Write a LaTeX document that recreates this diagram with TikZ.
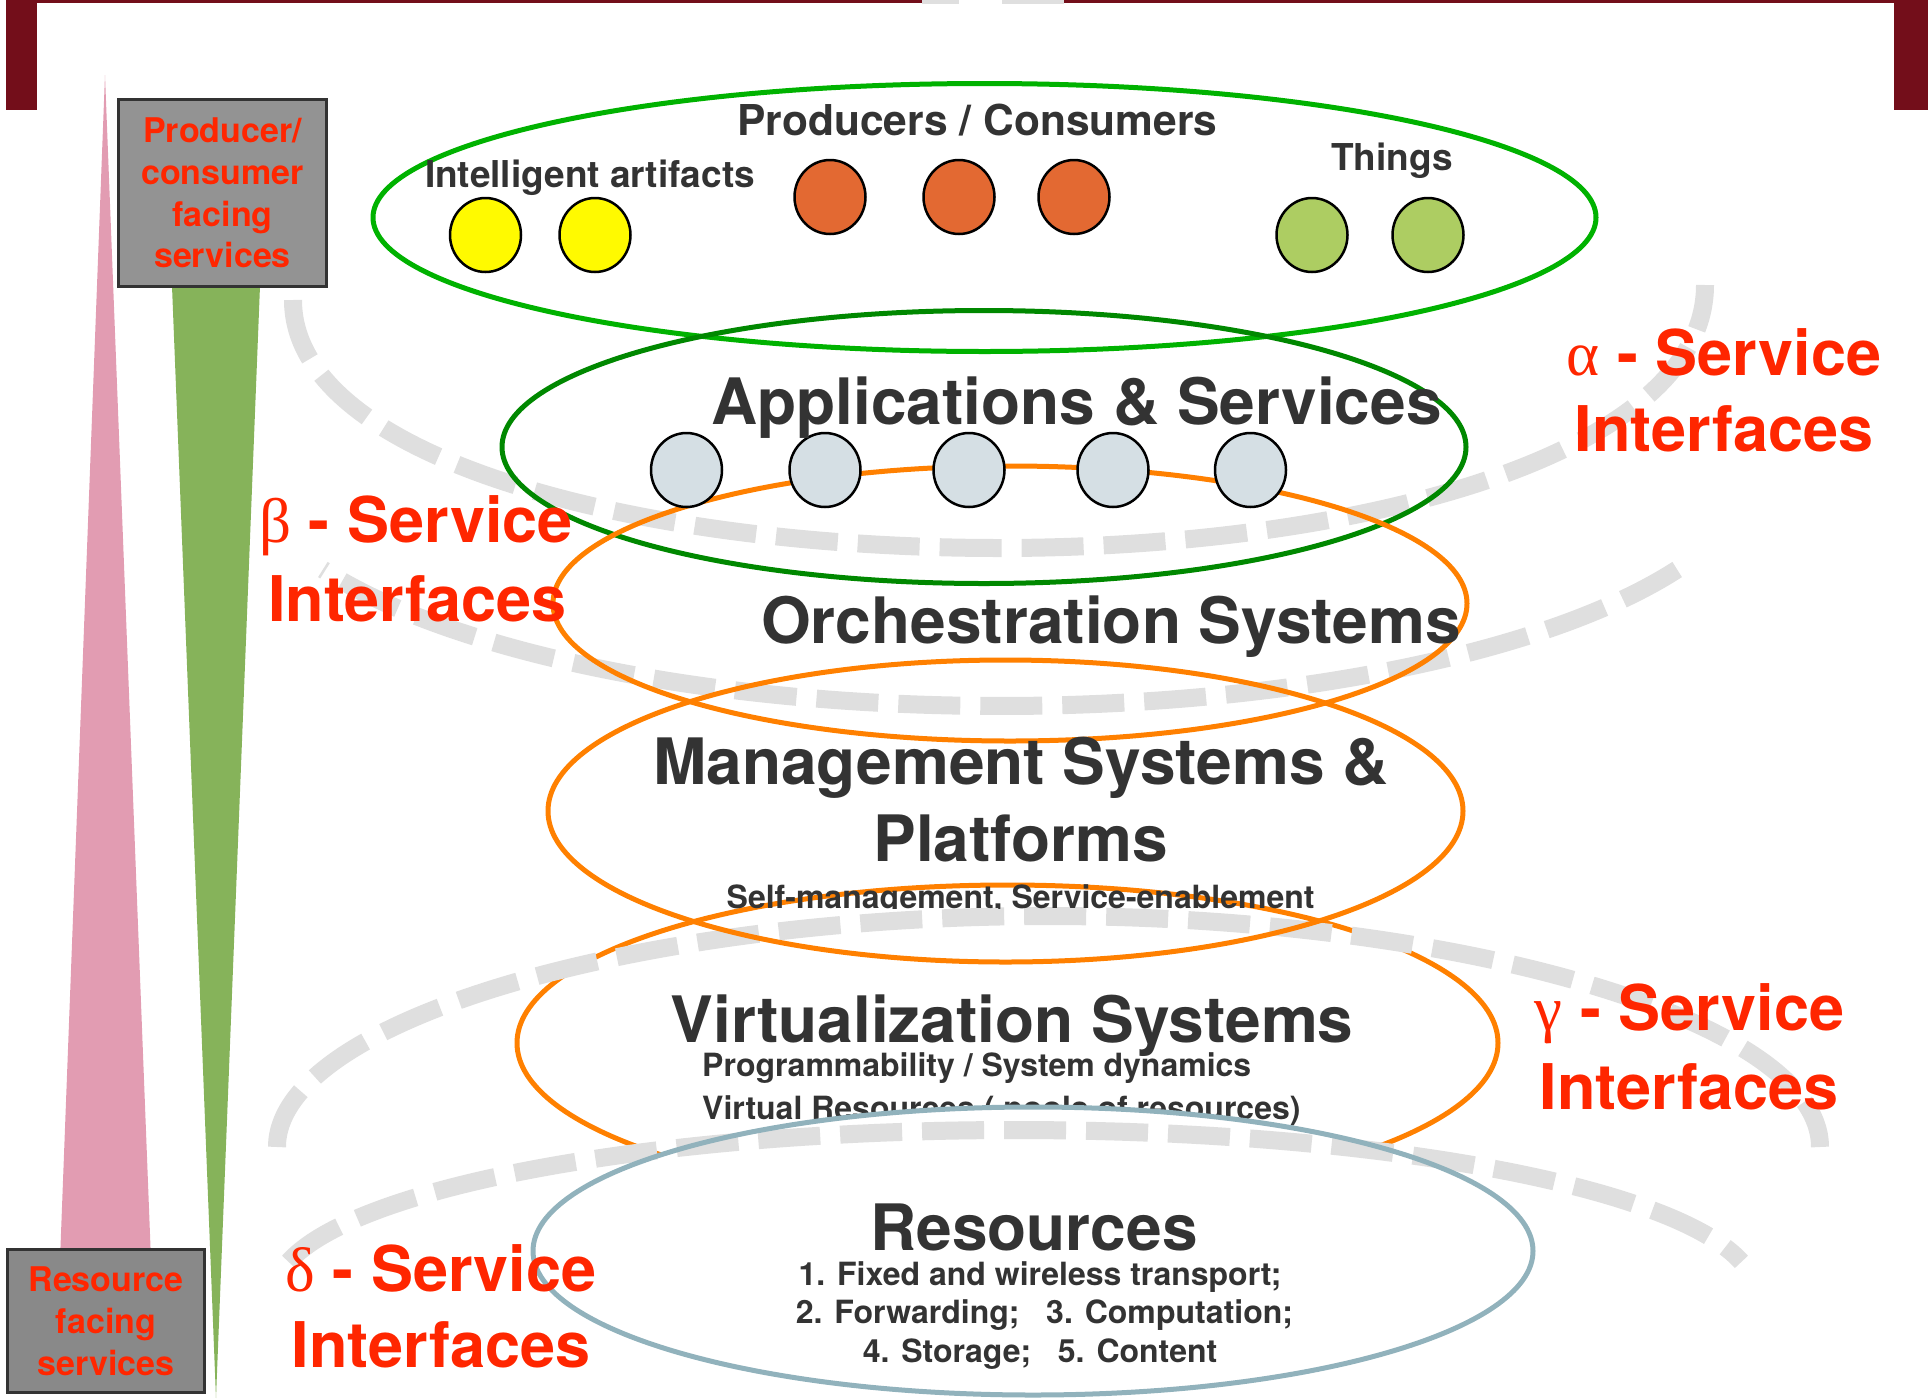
\documentclass[tikz,border=0pt]{standalone}
\usepackage{fontspec}
\setmainfont{TeX Gyre Heros}
\newfontfamily\grk{Liberation Serif}
\usetikzlibrary{shapes.geometric}
\definecolor{barred}{RGB}{115,14,26}
\definecolor{pinkc}{RGB}{226,156,178}
\definecolor{greentri}{RGB}{134,179,90}
\definecolor{boxfillA}{RGB}{147,147,147}
\definecolor{boxfillB}{RGB}{137,137,137}
\definecolor{boxedge}{RGB}{51,51,51}
\definecolor{lblred}{RGB}{255,38,0}
\definecolor{textgrey}{RGB}{51,51,51}
\definecolor{greenA}{RGB}{0,178,0}
\definecolor{greenB}{RGB}{0,136,0}
\definecolor{orangec}{RGB}{255,128,0}
\definecolor{bluegrey}{RGB}{145,178,188}
\definecolor{dashgrey}{RGB}{223,223,223}
\definecolor{yellowc}{RGB}{255,250,0}
\definecolor{orangedot}{RGB}{227,105,50}
\definecolor{greendot}{RGB}{173,205,98}
\definecolor{greydot}{RGB}{213,223,228}
\begin{document}
\begin{tikzpicture}[x=1pt,y=-1pt,
  txt/.style={anchor=base, inner sep=0pt, text=textgrey, font=\bfseries},
  big/.style={txt, font=\bfseries\fontsize{64}{77}\selectfont},
  small/.style={txt, font=\bfseries\fontsize{32}{38}\selectfont},
  lbl/.style={anchor=base, inner sep=0pt, text=lblred, font=\bfseries\fontsize{63}{77}\selectfont},
  ring/.style={ellipse, draw, line width=5pt, inner sep=0pt},
  dot/.style={ellipse, draw=black, line width=2.5pt, inner sep=0pt, minimum width=71pt, minimum height=74pt},
  layerdash/.style={draw=dashgrey, line width=18pt, dash pattern=on 62pt off 20pt},
  facebox/.style={draw=boxedge, line width=3pt, inner sep=0pt, align=center, text=lblred, font=\bfseries\fontsize{34}{41.8}\selectfont}
]
\useasboundingbox (0,0) rectangle (1928,1398);
% frame bits
\fill[barred] (6,0) rectangle (37,110);
\fill[barred] (1894,0) rectangle (1928,110);
\fill[barred] (6,0) rectangle (922,3);
\fill[barred] (1064,0) rectangle (1928,3);
\fill[dashgrey] (922,0) rectangle (959,4);
\fill[dashgrey] (1002,0) rectangle (1064,4);
% triangles
\fill[pinkc] (105,75) -- (151,1260) -- (60,1260) -- cycle;
\fill[greentri] (172,286) -- (260,286) -- (216,1398) -- cycle;
% boxes
\node[facebox, fill=boxfillA, minimum width=208pt, minimum height=187pt] (prodbox) at (222.5,193) {Producer/\\consumer\\facing\\services};
\node[facebox, fill=boxfillB, minimum width=197pt, minimum height=143pt] (resbox) at (106,1321) {Resource\\facing\\services};
% virtualization layer
\node[ring, draw=orangec, minimum width=981pt, minimum height=316pt] (virtlayer) at (1007.5,1043) {};
\node[big] (virt) at (1012,1042.7) {Virtualization Systems};
\node[small, anchor=base west] (prog) at (702,1076) {Programmability / System dynamics};
\node[small, anchor=base west] (vres) at (702,1119) {Virtual Resources ( pools of resources)};
% resources layer background
\fill[white] (1033,1251) ellipse [x radius=500pt, y radius=144pt];
\node[big] (res) at (1034,1250.5) {Resources};
\node[small] (r1) at (1040,1285) {1. Fixed and wireless transport;};
\node[small] (r2) at (1044.5,1323) {2. Forwarding;\ \ \ 3. Computation;};
\node[small] (r3) at (1040,1362.5) {4. Storage;\ \ \ 5. Content};
% dashed service interfaces
\draw[layerdash] (293,300) .. controls (293,460) and (640,548) .. (999,548) .. controls (1358,548) and (1705,455) .. (1705,285);
\draw[layerdash] plot[domain=27:153, samples=90, smooth] ({1000+760*cos(\x)},{456+250*sin(\x)});
\draw[layerdash] (277,1147) .. controls (277,1020) and (640,916) .. (1048,916) .. controls (1456,916) and (1820,1020) .. (1820,1147);
\draw[layerdash] plot[domain=191:349, samples=90, smooth] ({1015+740*cos(\x)},{1293+163*sin(\x)});
% layer rings
\node[ring, draw=greenA, minimum width=1223pt, minimum height=268pt] (prodlayer) at (984.5,217.5) {};
\node[ring, draw=greenB, minimum width=964pt, minimum height=273pt] (applayer) at (984,447) {};
\node[ring, draw=orangec, minimum width=914pt, minimum height=275pt] (orchlayer) at (1010,603.5) {};
\node[ring, draw=orangec, minimum width=915pt, minimum height=302pt] (mgmtlayer) at (1005.5,811) {};
\node[ring, draw=bluegrey, minimum width=1000pt, minimum height=288pt] (reslayer) at (1033,1251) {};
% dots
\node[dot, fill=yellowc] (ia1) at (485.5,235) {};
\node[dot, fill=yellowc] (ia2) at (595,235) {};
\node[dot, fill=orangedot] (pc1) at (830,197) {};
\node[dot, fill=orangedot] (pc2) at (959,197) {};
\node[dot, fill=orangedot] (pc3) at (1074,197) {};
\node[dot, fill=greendot] (th1) at (1312,235) {};
\node[dot, fill=greendot] (th2) at (1428,235) {};
\node[dot, fill=greydot] (ap1) at (686.5,470) {};
\node[dot, fill=greydot] (ap2) at (825,470) {};
\node[dot, fill=greydot] (ap3) at (969,470) {};
\node[dot, fill=greydot] (ap4) at (1113,470) {};
\node[dot, fill=greydot] (ap5) at (1250.5,470) {};
% texts
\node[txt, font=\bfseries\fontsize{42.5}{50}\selectfont] (pc) at (977.5,135) {Producers / Consumers};
\node[txt, font=\bfseries\fontsize{37}{44}\selectfont] (ia) at (590,187) {Intelligent artifacts};
\node[txt, font=\bfseries\fontsize{37}{44}\selectfont] (th) at (1392,170) {Things};
\node[big] (apps) at (1076.5,424) {Applications \& Services};
\node[big] (orch) at (1111,643) {Orchestration Systems};
\node[big] (mgmt) at (1021,784.5) {Management Systems \&};
\node[big] (plat) at (1020.6,861) {Platforms};
\begin{scope}
\clip (600,860) rectangle (1450,908.5);
\node[small] (selfm) at (1020.6,908) {Self-management, Service-enablement};
\end{scope}
% service interface labels
\node[lbl] (aS) at (1724,375) {{\grk\mdseries α} - Service};
\node[lbl] (aI) at (1724,451) {Interfaces};
\node[lbl] (bS) at (416,542) {{\grk\mdseries β} - Service};
\node[lbl] (bI) at (417.5,621) {Interfaces};
\node[lbl] (gS) at (1689.5,1030) {{\grk\mdseries γ} - Service};
\node[lbl] (gI) at (1689,1109) {Interfaces};
\node[lbl] (dS) at (441,1291) {{\grk\mdseries δ} - Service};
\node[lbl] (dI) at (441,1367) {Interfaces};
\end{tikzpicture}
\end{document}
